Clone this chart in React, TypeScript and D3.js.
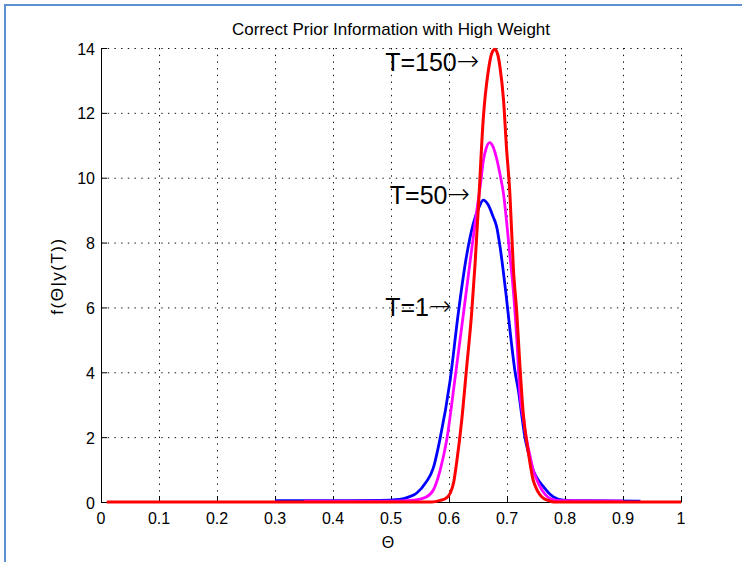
import React from 'react';
import * as d3 from 'd3';

const titleText = 'Correct Prior Information with High Weight';
const xLabel = 'Θ';
const yLabel = 'f(Θ|y(T))';
const xTicks = [0, 0.1, 0.2, 0.3, 0.4, 0.5, 0.6, 0.7, 0.8, 0.9, 1];
const xTickLabels = ['0', '0.1', '0.2', '0.3', '0.4', '0.5', '0.6', '0.7', '0.8', '0.9', '1'];
const yTicks = [0, 2, 4, 6, 8, 10, 12, 14];

// T=1 (blue)
const t1Theta = [0.30, 0.40, 0.48, 0.515, 0.53, 0.544, 0.56, 0.573, 0.584, 0.602, 0.616, 0.630, 0.642, 0.652, 0.659, 0.668, 0.676, 0.682, 0.688, 0.699, 0.707, 0.714, 0.720, 0.725, 0.731, 0.738, 0.745, 0.753, 0.763, 0.772, 0.780, 0.797, 0.83, 0.93];
const t1Val = [0.04, 0.04, 0.05, 0.08, 0.15, 0.27, 0.6, 1.05, 1.9, 3.76, 5.82, 7.56, 8.59, 9.1, 9.31, 9.15, 8.8, 8.5, 7.87, 6.3, 5.0, 4.0, 3.4, 2.73, 1.98, 1.45, 0.99, 0.7, 0.47, 0.28, 0.16, 0.06, 0.04, 0.03];

// T=50 (magenta)
const t50Theta = [0.35, 0.50, 0.54, 0.56, 0.573, 0.585, 0.596, 0.610, 0.625, 0.636, 0.648, 0.655, 0.659, 0.664, 0.670, 0.676, 0.682, 0.688, 0.694, 0.699, 0.705, 0.711, 0.717, 0.722, 0.728, 0.734, 0.740, 0.745, 0.751, 0.757, 0.765, 0.774, 0.79, 0.90];
const t50Val = [0.03, 0.03, 0.06, 0.15, 0.37, 1.0, 1.91, 3.76, 5.82, 7.36, 9.0, 9.9, 10.5, 10.9, 11.08, 10.95, 10.6, 10.1, 9.5, 8.7, 7.6, 6.5, 5.0, 3.4, 2.6, 1.91, 1.4, 0.99, 0.7, 0.47, 0.25, 0.11, 0.04, 0.03];

// T=150 (red)
const t150Theta = [0.01, 0.57, 0.585, 0.595, 0.602, 0.608, 0.613, 0.622, 0.630, 0.639, 0.645, 0.651, 0.659, 0.668, 0.674, 0.679, 0.684, 0.688, 0.694, 0.699, 0.705, 0.711, 0.717, 0.722, 0.728, 0.737, 0.745, 0.751, 0.757, 0.764, 0.771, 0.78, 1.0];
const t150Val = [0, 0, 0.05, 0.12, 0.27, 0.6, 1.19, 2.53, 4.07, 5.82, 7.36, 9.2, 11.8, 13.32, 13.85, 13.96, 13.8, 13.4, 12.4, 10.96, 9.5, 7.2, 5.8, 4.28, 2.73, 1.5, 0.68, 0.4, 0.22, 0.1, 0.05, 0, 0];

const annotations = ['T=150', 'T=50', 'T=1'];
const annotationTheta = [0.49, 0.498, 0.49];
const annotationVal = [13.3, 9.2, 5.75];

const W = 742;
const H = 562;
const left = 101;
const right = 681;
const top = 48;
const bottom = 502;
const font = '"Liberation Sans", Arial, Helvetica, sans-serif';

export default function App() {
  const x = d3.scaleLinear().domain([0, 1]).range([left, right]);
  const y = d3.scaleLinear().domain([0, 14]).range([bottom, top]);
  const line = d3
    .line<[number, number]>()
    .x((d) => x(d[0]))
    .y((d) => y(d[1]))
    .curve(d3.curveMonotoneX);
  const series = [
    { th: t1Theta, v: t1Val, color: '#0000ff', w: 2.8 },
    { th: t50Theta, v: t50Val, color: '#ff00ff', w: 2.8 },
    { th: t150Theta, v: t150Val, color: '#ff0000', w: 3 },
  ];
  const dash = '1.4,5.3';
  return (
    <svg
      width={W}
      height={H}
      style={{ position: 'fixed', left: 0, top: 0, background: '#fff' }}
      fontFamily={font}
    >
      <rect x={0} y={0} width={W} height={H} fill="#fff" />
      <line x1={4} y1={5} x2={W} y2={5} stroke="#5f8fd3" strokeWidth={2} />
      <line x1={5} y1={4} x2={5} y2={H} stroke="#5f8fd3" strokeWidth={2} />
      {/* grid */}
      {yTicks.filter((t) => t > 0).map((t) => (
        <line key={'gy' + t} x1={left} x2={right} y1={y(t) + 0.5} y2={y(t) + 0.5} stroke="#111" strokeWidth={1} strokeDasharray={dash} />
      ))}
      {xTicks.filter((t) => t > 0).map((t) => (
        <line key={'gx' + t} x1={x(t) + 0.5} x2={x(t) + 0.5} y1={top} y2={bottom} stroke="#111" strokeWidth={1} strokeDasharray={dash} />
      ))}
      {/* axes */}
      <line x1={left + 0.5} x2={left + 0.5} y1={top} y2={bottom + 0.5} stroke="#000" strokeWidth={1} />
      <line x1={left} x2={right + 0.5} y1={bottom + 0.5} y2={bottom + 0.5} stroke="#000" strokeWidth={1} />
      {yTicks.map((t) => (
        <g key={'ty' + t}>
          <line x1={left} x2={left + 6} y1={y(t) + 0.5} y2={y(t) + 0.5} stroke="#000" strokeWidth={1} />
          <text x={95} y={y(t) + 1} textAnchor="end" dominantBaseline="central" fontSize={16} fill="#000">
            {t}
          </text>
        </g>
      ))}
      {xTicks.map((t, i) => (
        <g key={'tx' + t}>
          <line x1={x(t) + 0.5} x2={x(t) + 0.5} y1={bottom} y2={bottom - 6} stroke="#000" strokeWidth={1} />
          <text x={x(t)} y={523.5} textAnchor="middle" fontSize={16} fill="#000">
            {xTickLabels[i]}
          </text>
        </g>
      ))}
      {/* curves */}
      {series.map((s, i) => (
        <path
          key={'s' + i}
          d={line(s.th.map((t, j) => [t, s.v[j]] as [number, number])) || ''}
          fill="none"
          stroke={s.color}
          strokeWidth={s.w}
          strokeLinejoin="round"
        />
      ))}
      {/* annotations */}
      {annotations.map((a, i) => (
        <text key={'a' + i} x={x(annotationTheta[i])} y={y(annotationVal[i])} fontSize={25} fill="#000">
          {a}
          <tspan fontFamily='"DejaVu Sans", sans-serif' fontSize={27} fontWeight={300} dy={-1}>
            →
          </tspan>
        </text>
      ))}
      <text x={391} y={35} textAnchor="middle" fontSize={17} fill="#000">
        {titleText}
      </text>
      <text x={388} y={548} textAnchor="middle" fontSize={16} fill="#000">
        {xLabel}
      </text>
      <text
        transform={`translate(63,276) rotate(-90)`}
        textAnchor="middle"
        fontSize={17}
        letterSpacing={1.5}
        fill="#000"
      >
        {yLabel}
      </text>
    </svg>
  );
}
